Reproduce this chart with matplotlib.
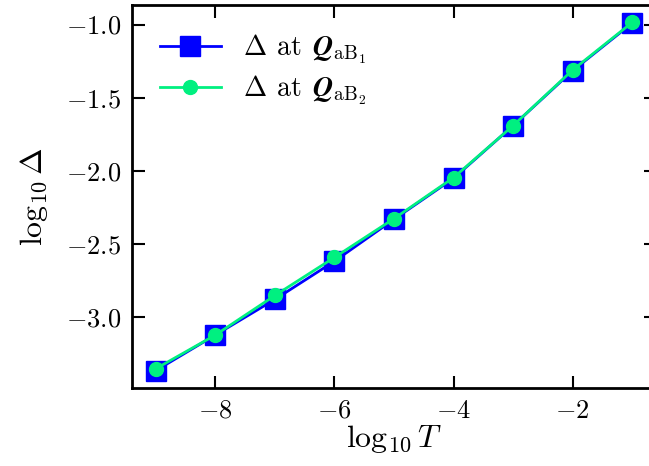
import matplotlib
matplotlib.use('Agg')
import matplotlib.pyplot as plt
import numpy as np

plt.rcParams['font.family'] = 'serif'
plt.rcParams['font.serif'] = ['cmr10', 'DejaVu Serif']
plt.rcParams['mathtext.fontset'] = 'cm'
plt.rcParams['axes.formatter.use_mathtext'] = True

# data
logT = [-9, -8, -7, -6, -5, -4, -3, -2, -1]
logDelta_B1 = [-3.363, -3.12, -2.877, -2.616, -2.33, -2.05, -1.69, -1.315, -0.99]
logDelta_B2 = [-3.35, -3.12, -2.85, -2.59, -2.325, -2.045, -1.69, -1.31, -0.985]

fig = plt.figure(figsize=(6.49, 4.66), dpi=100)
ax = fig.add_axes([0.2034, 0.1674, 0.8074, 0.8219])

ax.plot(logT, logDelta_B1, color='#0000ff', marker='s', ms=14, lw=2,
        label=r'$\Delta\;\,\mathrm{at}\;\,\boldsymbol{Q}_{\mathrm{aB}_1}$')
ax.plot(logT, logDelta_B2, color='#00f080', marker='o', ms=10, lw=2,
        label=r'$\Delta\;\,\mathrm{at}\;\,\boldsymbol{Q}_{\mathrm{aB}_2}$')

ax.set_xlabel(r'$\log_{10} T$', fontsize=23, labelpad=0)
ax.set_ylabel(r'$\log_{10} \Delta$', fontsize=23, labelpad=11)
ax.set_xticks([-8, -6, -4, -2])
ax.set_yticks([-3.0, -2.5, -2.0, -1.5, -1.0])
ax.tick_params(direction='in', top=True, right=True, length=9, width=1.5,
               labelsize=19, pad=8)
for s in ax.spines.values():
    s.set_linewidth(2)

ax.legend(loc='upper left', frameon=False, fontsize=20, handlelength=2.2,
          handletextpad=0.8, borderaxespad=0.6, labelspacing=0.3)

fig.savefig('out.png', dpi=100)
